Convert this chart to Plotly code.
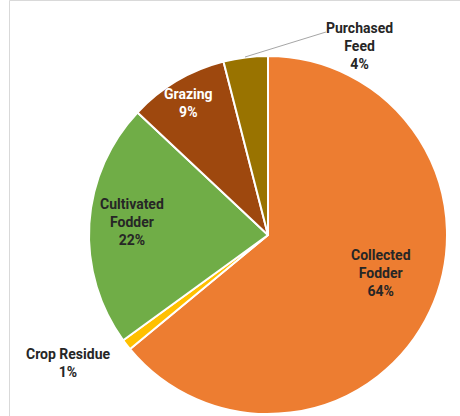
import plotly.graph_objects as go

# Feed sources (share of total feed, %)
sources = ["Collected Fodder", "Crop Residue", "Cultivated Fodder", "Grazing", "Purchased Feed"]
shares = [64, 1, 22, 9, 4]
colors = ["#ED7D31", "#FFC000", "#70AD47", "#9E480E", "#997300"]
label_colors = ["#262626", "#262626", "#262626", "#FFFFFF", "#262626"]

W, H = 460, 416

# label anchor points in pixels (centre of the text block)
label_pos = [(381, 273), (68, 363), (132, 222), (188, 103), (359, 46)]
label_lines = [["Collected", "Fodder"], ["Crop Residue"], ["Cultivated", "Fodder"],
               ["Grazing"], ["Purchased", "Feed"]]


def px(x):
    return x / W


def py(y):
    return 1 - y / H


fig = go.Figure(
    go.Pie(
        labels=sources,
        values=shares,
        sort=False,
        direction="clockwise",
        rotation=0,
        marker=dict(colors=colors, line=dict(color="white", width=2)),
        textinfo="none",
        hoverinfo="label+percent",
        domain=dict(x=[px(89), px(447)], y=[py(414), py(56)]),
        showlegend=False,
    )
)

font_family = "Liberation Sans Narrow, Roboto, Arial, sans-serif"
annotations = []
for lines, share, (x, y), col in zip(label_lines, shares, label_pos, label_colors):
    text = "<br>".join(lines + [f"{share}%"])
    annotations.append(
        dict(
            x=px(x), y=py(y), xref="paper", yref="paper",
            text=f"<b>{text}</b>", showarrow=False,
            xanchor="center", yanchor="middle", align="center",
            font=dict(family=font_family, size=14, color=col),
        )
    )

shapes = [
    # chart frame
    dict(type="rect", xref="paper", yref="paper",
         x0=px(9.5), y0=py(440), x1=px(480), y1=py(0.5),
         line=dict(color="#D9D9D9", width=1), fillcolor="rgba(0,0,0,0)", layer="below"),
    # leader line for the Purchased Feed label
    dict(type="line", xref="paper", yref="paper",
         x0=px(245), y0=py(57), x1=px(326), y1=py(32),
         line=dict(color="#A6A6A6", width=1)),
]

fig.update_layout(
    width=W, height=H,
    margin=dict(l=0, r=0, t=0, b=0),
    paper_bgcolor="white", plot_bgcolor="white",
    annotations=annotations,
    shapes=shapes,
)

fig.write_html("out.html")
